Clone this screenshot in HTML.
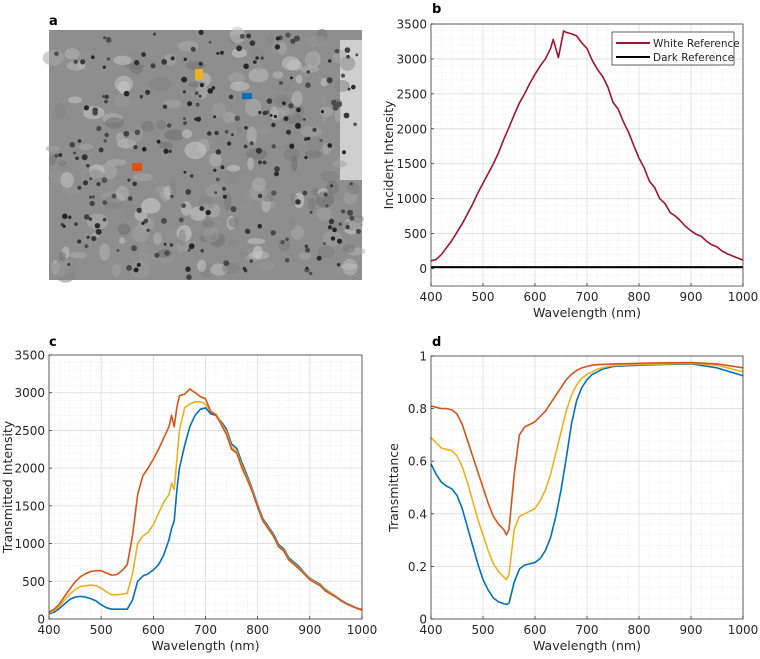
<!DOCTYPE html>
<html><head><meta charset="utf-8">
<style>
html,body{margin:0;padding:0;background:#fff;}
svg{display:block;font-family:"DejaVu Sans","Liberation Sans",sans-serif;}
</style></head>
<body>
<svg id="fig" width="760" height="659" viewBox="0 0 760 659" xmlns="http://www.w3.org/2000/svg">
  <text x="49" y="25" font-size="13" font-weight="bold">a</text>
  <text x="432" y="13" font-size="13" font-weight="bold">b</text>
  <text x="49" y="346" font-size="13" font-weight="bold">c</text>
  <text x="432" y="346" font-size="13" font-weight="bold">d</text>
  <g id="micro"></g>
  <g id="pb"></g>
  <g id="pc"></g>
  <g id="pd"></g>
</svg>
<script>
// ---- Panel b data ----
const wlB = [400,410,420,430,440,450,460,470,480,490,500,510,520,530,540,550,560,570,580,590,600,610,620,630,635,645,655,660,670,680,690,700,710,720,730,740,750,760,770,780,790,800,810,820,830,840,850,860,870,880,890,900,910,920,930,940,950,960,970,980,990,1000];
const whiteRef = [110,130,200,300,400,520,640,780,920,1080,1220,1360,1500,1660,1850,2020,2200,2370,2500,2650,2780,2900,3000,3150,3280,3020,3400,3380,3360,3330,3230,3150,2980,2850,2750,2600,2380,2280,2100,1950,1760,1580,1440,1250,1160,1000,930,800,750,680,600,540,490,460,390,340,310,250,210,180,150,120];
const darkWl = [400,1000];
const darkRef = [20,20];
const ticksBY = [0,500,1000,1500,2000,2500,3000,3500];
const ticksX = [400,500,600,700,800,900,1000];

// ---- Panel c data ----
const wlC = [400,410,420,430,440,450,460,470,480,490,500,510,520,530,540,550,560,570,580,590,600,610,620,630,635,640,645,650,660,670,680,690,700,710,720,730,740,750,760,770,780,790,800,810,820,830,840,850,860,870,880,890,900,910,920,930,940,950,960,970,980,990,1000];
const transRed = [90,130,200,300,400,490,560,600,630,640,640,610,580,590,640,720,1100,1650,1900,2000,2120,2250,2400,2550,2700,2550,2800,2960,2980,3050,3000,2950,2920,2750,2700,2580,2450,2250,2200,2000,1850,1680,1480,1300,1200,1100,960,900,780,720,660,590,520,480,440,370,330,290,240,200,170,140,120];
const transYellow = [80,110,170,250,330,390,430,440,450,440,410,360,320,320,330,340,600,1000,1100,1150,1250,1400,1550,1650,1800,1720,2100,2500,2800,2850,2880,2880,2850,2750,2720,2600,2480,2280,2220,2030,1870,1700,1490,1310,1210,1110,970,910,790,730,670,600,530,490,450,380,340,295,245,205,175,145,122];
const transBlue = [70,90,140,200,260,290,300,290,270,240,190,150,130,130,130,130,250,500,570,600,650,720,850,1050,1200,1300,1700,2000,2300,2550,2700,2780,2800,2720,2700,2620,2520,2320,2260,2070,1900,1720,1510,1330,1230,1130,990,930,810,750,690,610,540,500,460,390,345,300,250,210,178,148,124];
const ticksCY = [0,500,1000,1500,2000,2500,3000,3500];

// ---- Panel d data ----
const wlD = [400,410,420,430,440,450,460,470,480,490,500,510,520,530,540,545,550,560,570,580,590,600,610,620,630,640,650,660,670,680,690,700,710,720,730,740,750,775,800,850,900,950,1000];
const tRed = [0.81,0.805,0.80,0.80,0.795,0.78,0.74,0.68,0.62,0.56,0.50,0.44,0.39,0.36,0.34,0.32,0.34,0.55,0.70,0.73,0.74,0.75,0.77,0.79,0.82,0.85,0.88,0.91,0.93,0.945,0.955,0.96,0.965,0.967,0.968,0.969,0.97,0.971,0.972,0.974,0.975,0.97,0.955];
const tYellow = [0.69,0.67,0.65,0.645,0.64,0.62,0.58,0.52,0.45,0.38,0.32,0.26,0.21,0.18,0.16,0.15,0.17,0.34,0.39,0.40,0.41,0.42,0.45,0.49,0.55,0.63,0.71,0.79,0.85,0.89,0.915,0.93,0.94,0.95,0.955,0.96,0.963,0.966,0.968,0.97,0.972,0.965,0.94];
const tBlue = [0.59,0.55,0.52,0.505,0.495,0.47,0.42,0.35,0.28,0.21,0.15,0.11,0.08,0.065,0.058,0.055,0.06,0.14,0.19,0.205,0.21,0.215,0.23,0.26,0.31,0.39,0.49,0.61,0.74,0.83,0.88,0.91,0.93,0.94,0.95,0.955,0.96,0.963,0.965,0.968,0.97,0.955,0.925];
const ticksDY = [0,0.2,0.4,0.6,0.8,1];
const ticksDLabels = ["0","0.2","0.4","0.6","0.8","1"];

const NS = "http://www.w3.org/2000/svg";
function mk(tag, parent){ const e=document.createElementNS(NS,tag); parent.appendChild(e); return e; }

function drawPanel(g, box, xr, yr, yticks, ylabels, yMinorStep, ylabel, series, prefix){
  const sx = v => box.x0 + (v-xr[0])/(xr[1]-xr[0])*(box.x1-box.x0);
  const sy = v => box.y1 - (v-yr[0])/(yr[1]-yr[0])*(box.y1-box.y0);
  const bg = mk('rect', g);
  bg.setAttribute('x',box.x0); bg.setAttribute('y',box.y0);
  bg.setAttribute('width',box.x1-box.x0); bg.setAttribute('height',box.y1-box.y0);
  bg.setAttribute('fill','#fff');
  
  
  const grid = mk('g', g);
  
  
  for(let v=xr[0]; v<=xr[1]+1e-9; v+=20){
    const major = Math.abs((v-400)%100)<1e-6;
    const l = mk('line', grid);
    l.setAttribute('x1',sx(v)); l.setAttribute('x2',sx(v)); l.setAttribute('y1',box.y0); l.setAttribute('y2',box.y1);
    l.setAttribute('stroke', major?'#dcdcdc':'#e4e4e4'); l.setAttribute('stroke-width', major?0.8:0.6);
    if(!major) l.setAttribute('stroke-dasharray','1,1.5');
  }
  const ys = Math.ceil(yr[0]/yMinorStep);
  for(let k=ys; k*yMinorStep<=yr[1]+1e-9; k++){
    const v = k*yMinorStep;
    const major = yticks.some(t=>Math.abs(t-v)<1e-9);
    const l = mk('line', grid);
    l.setAttribute('y1',sy(v)); l.setAttribute('y2',sy(v)); l.setAttribute('x1',box.x0); l.setAttribute('x2',box.x1);
    l.setAttribute('stroke', major?'#dcdcdc':'#e4e4e4'); l.setAttribute('stroke-width', major?0.8:0.6);
    if(!major) l.setAttribute('stroke-dasharray','1,1.5');
  }
  series.forEach(s=>{
    const p = mk('polyline', g);
    p.setAttribute('points', s.x.map((xv,i)=>sx(xv).toFixed(2)+','+sy(s.y[i]).toFixed(2)).join(' '));
    p.setAttribute('fill','none'); p.setAttribute('stroke',s.color); p.setAttribute('stroke-width',s.w||1.6);
    p.setAttribute('stroke-linejoin','round');
    
    
  });
  const fr = mk('rect', g);
  fr.setAttribute('x',box.x0); fr.setAttribute('y',box.y0);
  fr.setAttribute('width',box.x1-box.x0); fr.setAttribute('height',box.y1-box.y0);
  fr.setAttribute('fill','none'); fr.setAttribute('stroke','#262626'); fr.setAttribute('stroke-width',0.7);
  
  
  const xa = mk('g', g);
  
  
  ticksX.forEach(v=>{
    const t = mk('line', xa);
    t.setAttribute('x1',sx(v)); t.setAttribute('x2',sx(v)); t.setAttribute('y1',box.y1); t.setAttribute('y2',box.y1-3);
    t.setAttribute('stroke','#262626'); t.setAttribute('stroke-width',0.7);
    const tx = mk('text', xa);
    tx.setAttribute('x',sx(v)); tx.setAttribute('y',box.y1+15); tx.setAttribute('text-anchor','middle');
    tx.setAttribute('font-size','12'); tx.setAttribute('fill','#262626');
    tx.textContent = v;
    
    
  });
  const xl = mk('text', g);
  xl.setAttribute('x',(box.x0+box.x1)/2); xl.setAttribute('y',box.y1+31); xl.setAttribute('text-anchor','middle');
  xl.setAttribute('font-size','12.5'); xl.setAttribute('fill','#262626');
  xl.textContent = 'Wavelength (nm)';
  
  
  const ya = mk('g', g);
  
  
  yticks.forEach((v,i)=>{
    const t = mk('line', ya);
    t.setAttribute('y1',sy(v)); t.setAttribute('y2',sy(v)); t.setAttribute('x1',box.x0); t.setAttribute('x2',box.x0+3);
    t.setAttribute('stroke','#262626'); t.setAttribute('stroke-width',0.7);
    const tx = mk('text', ya);
    tx.setAttribute('x',box.x0-4); tx.setAttribute('y',sy(v)+4.5); tx.setAttribute('text-anchor','end');
    tx.setAttribute('font-size','12'); tx.setAttribute('fill','#262626');
    tx.textContent = ylabels[i];
    
    
  });
  const yl = mk('text', g);
  const cy = (box.y0+box.y1)/2;
  yl.setAttribute('x',box.lx); yl.setAttribute('y',cy); yl.setAttribute('text-anchor','middle');
  yl.setAttribute('transform','rotate(-90 '+box.lx+' '+cy+')');
  yl.setAttribute('font-size','12.5'); yl.setAttribute('fill','#262626');
  yl.textContent = ylabel;
  
  
  return {sx, sy};
}

const RED='#D95319', YEL='#EDB120', BLU='#0072BD';

// Panel b
const gb = document.getElementById('pb');
drawPanel(gb, {x0:431,x1:743,y0:24,y1:286,lx:393}, [400,1000], [-250,3500], ticksBY, ticksBY.map(String), 100, 'Incident Intensity', [
  {x:wlB, y:whiteRef, color:'#A2142F', name:'white-reference-line'},
  {x:darkWl, y:darkRef, color:'#000', name:'dark-reference-line', w:2}
], 'panel-b');
const lg = mk('g', gb);


const lr = mk('rect', lg);
lr.setAttribute('x',612); lr.setAttribute('y',32); lr.setAttribute('width',122); lr.setAttribute('height',33);
lr.setAttribute('fill','#fff'); lr.setAttribute('stroke','#262626'); lr.setAttribute('stroke-width',0.7);
[['White Reference','#A2142F',43,2],['Dark Reference','#000',57,2]].forEach(e=>{
  const ent = mk('g', lg);
  
  
  const l = mk('line', ent);
  l.setAttribute('x1',616); l.setAttribute('x2',650); l.setAttribute('y1',e[2]); l.setAttribute('y2',e[2]);
  l.setAttribute('stroke',e[1]); l.setAttribute('stroke-width',e[3]);
  const t = mk('text', ent);
  t.setAttribute('x',653); t.setAttribute('y',e[2]+4); t.setAttribute('font-size','10.5'); t.setAttribute('fill','#262626');
  t.textContent = e[0];
});

// Panel c
drawPanel(document.getElementById('pc'), {x0:49,x1:362,y0:355,y1:619,lx:12}, [400,1000], [0,3500], ticksCY, ticksCY.map(String), 100, 'Transmitted Intensity', [
  {x:wlC, y:transBlue, color:BLU, name:'blue-region-transmitted-line'},
  {x:wlC, y:transYellow, color:YEL, name:'yellow-region-transmitted-line'},
  {x:wlC, y:transRed, color:RED, name:'orange-region-transmitted-line'}
], 'panel-c');

// Panel d
drawPanel(document.getElementById('pd'), {x0:431,x1:743,y0:356,y1:619,lx:398}, [400,1000], [0,1], ticksDY, ticksDLabels, 0.04, 'Transmittance', [
  {x:wlD, y:tBlue, color:BLU, name:'blue-region-transmittance-line'},
  {x:wlD, y:tYellow, color:YEL, name:'yellow-region-transmittance-line'},
  {x:wlD, y:tRed, color:RED, name:'orange-region-transmittance-line'}
], 'panel-d');

// Panel a: micrograph texture (deterministic)
const gm = document.getElementById('micro');
const base = mk('rect', gm);
base.setAttribute('x',49); base.setAttribute('y',30); base.setAttribute('width',313); base.setAttribute('height',250);
base.setAttribute('fill','#8e8e8e');
let seed = 12345;
function rnd(){ seed = (seed*1103515245 + 12345) % 2147483648; return seed/2147483648; }
const lightRect = mk('rect', gm);
lightRect.setAttribute('x',340); lightRect.setAttribute('y',40); lightRect.setAttribute('width',22); lightRect.setAttribute('height',140);
lightRect.setAttribute('fill','#cfcfcf');
for(let i=0;i<220;i++){
  const c = mk('ellipse', gm);
  const x = 52+rnd()*307, y = 33+rnd()*244;
  c.setAttribute('cx',x.toFixed(1)); c.setAttribute('cy',y.toFixed(1));
  c.setAttribute('rx',(3+rnd()*8).toFixed(1)); c.setAttribute('ry',(3+rnd()*6).toFixed(1));
  const v = Math.floor(110+rnd()*100);
  c.setAttribute('fill','rgb('+v+','+v+','+v+')'); c.setAttribute('opacity','0.55');
}
for(let i=0;i<240;i++){
  const c = mk('circle', gm);
  c.setAttribute('cx',(51+rnd()*309).toFixed(1)); c.setAttribute('cy',(32+rnd()*246).toFixed(1));
  c.setAttribute('r',(1.4+rnd()*1.6).toFixed(1));
  const v = Math.floor(35+rnd()*50);
  c.setAttribute('fill','rgb('+v+','+v+','+v+')');
}
[['yellow-region-marker',195,69,8,11,YEL],['blue-region-marker',242,93,10,6,BLU],['orange-region-marker',132,163,10,8,RED]].forEach(m=>{
  const r = mk('rect', gm);
  r.setAttribute('x',m[1]); r.setAttribute('y',m[2]); r.setAttribute('width',m[3]); r.setAttribute('height',m[4]);
  r.setAttribute('fill',m[5]);
  
  
});
</script>
</body></html>
